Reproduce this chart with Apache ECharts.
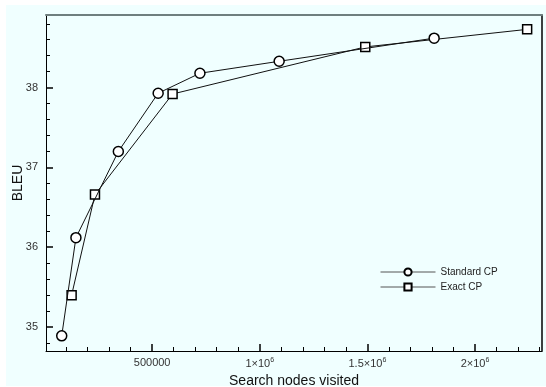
<!DOCTYPE html>
<html>
<head>
<meta charset="utf-8">
<script src="https://cdn.jsdelivr.net/npm/echarts@6/dist/echarts.min.js"></script>
<style>
html,body{margin:0;padding:0;background:#fff;}
#c{width:546px;height:387px;}
</style>
</head>
<body>
<div id="c"></div>
<script>
// ---- data ----
const stdName = 'Standard CP';
const exactName = 'Exact CP';
const stdX = [80000, 146000, 343000, 528000, 722000, 1090000, 1810000];
const stdY = [34.89, 36.12, 37.20, 37.93, 38.18, 38.33, 38.62];
const exactX = [126000, 234500, 595000, 1490000, 2242000];
const exactY = [35.40, 36.66, 37.92, 38.51, 38.73];
const xMajorTicks = [500000, 1000000, 1500000, 2000000];
const xMajorLabels = {500000: '500000', 1000000: '{a|1×10}{s|6}', 1500000: '{a|1.5×10}{s|6}', 2000000: '{a|2×10}{s|6}'};
const xMinorTicks = [100000,200000,300000,400000,600000,700000,800000,900000,1100000,1200000,1300000,1400000,1600000,1700000,1800000,1900000,2100000,2200000,2300000];
const yMajorTicks = [35, 36, 37, 38];
const yMinorTicks = [34.8,35.2,35.4,35.6,35.8,36.2,36.4,36.6,36.8,37.2,37.4,37.6,37.8,38.2,38.4,38.6,38.8];
const xTitle = 'Search nodes visited';
const yTitle = 'BLEU';

const X_MIN = 7000, X_MAX = 2311000, Y_MIN = 34.70, Y_MAX = 38.91;
const FONT = 'Liberation Sans, Arial, sans-serif';

function pairs(xs, ys){ return xs.map((x,i)=>[x, ys[i]]); }

const chart = echarts.init(document.getElementById('c'), null, {renderer:'canvas'});
const baseX = {type:'value', min:X_MIN, max:X_MAX, splitLine:{show:false}};
const baseY = {type:'value', min:Y_MIN, max:Y_MAX, splitLine:{show:false}};

chart.setOption({
  animation:false,
  backgroundColor:'#ffffff',
  graphic:[{type:'rect', z:-10, shape:{x:6, y:5, width:540, height:381}, style:{fill:'#f0ffff'}}],
  grid:{left:46, top:15, right:4, bottom:36, containLabel:false, outerBoundsMode:'none'},
  legend:{
    left:375, top:262, orient:'vertical', itemWidth:55, itemHeight:9, itemGap:5,
    textStyle:{fontFamily:FONT, fontSize:10, color:'#222'},
    lineStyle:{color:'#555', width:1},
    data:[stdName, exactName]
  },
  xAxis:[
    Object.assign({}, baseX, {
      position:'bottom',
      name:xTitle, nameLocation:'middle', nameGap:23, nameMoveOverlap:false,
      nameTextStyle:{fontFamily:FONT, fontSize:14, color:'#111'},
      axisLine:{show:true, lineStyle:{color:'#000', width:1}},
      axisTick:{show:true, inside:true, length:7, customValues:xMajorTicks, lineStyle:{color:'#000', width:1.5}},
      axisLabel:{show:true, margin:6, customValues:xMajorTicks, fontFamily:FONT, fontSize:11, color:'#333',
        formatter:v=>xMajorLabels[v] || '',
        rich:{a:{fontFamily:FONT, fontSize:11, color:'#333'}, s:{fontFamily:FONT, fontSize:7, color:'#333', verticalAlign:'top', padding:[0,0,6,0]}}}
    }),
    Object.assign({}, baseX, {
      position:'bottom',
      axisLine:{show:false},
      axisTick:{show:true, inside:true, length:4, customValues:xMinorTicks, lineStyle:{color:'#000', width:1}},
      axisLabel:{show:false}
    }),
    Object.assign({}, baseX, {
      position:'top',
      axisLine:{show:true, lineStyle:{color:'#6f7f7f', width:2}},
      axisTick:{show:false}, axisLabel:{show:false}
    })
  ],
  yAxis:[
    Object.assign({}, baseY, {
      position:'left',
      name:yTitle, nameLocation:'middle', nameGap:21, nameRotate:90, nameMoveOverlap:false,
      nameTextStyle:{fontFamily:FONT, fontSize:14, color:'#111'},
      axisLine:{show:true, lineStyle:{color:'#000', width:1}},
      axisTick:{show:true, inside:true, length:7, customValues:yMajorTicks, lineStyle:{color:'#000', width:1.5}},
      axisLabel:{show:true, margin:8, customValues:yMajorTicks, fontFamily:FONT, fontSize:11, color:'#333'}
    }),
    Object.assign({}, baseY, {
      position:'left',
      axisLine:{show:false},
      axisTick:{show:true, inside:true, length:4, customValues:yMinorTicks, lineStyle:{color:'#000', width:1}},
      axisLabel:{show:false}
    }),
    Object.assign({}, baseY, {
      position:'right',
      axisLine:{show:true, lineStyle:{color:'#000', width:1.5}},
      axisTick:{show:false}, axisLabel:{show:false}
    })
  ],
  series:[
    {
      name:exactName, type:'line', data:pairs(exactX, exactY),
      xAxisIndex:0, yAxisIndex:0,
      symbol:'rect', symbolSize:9, showAllSymbol:true,
      lineStyle:{color:'#111', width:1},
      itemStyle:{color:'#ffffff', borderColor:'#000', borderWidth:1.5},
      z:3
    },
    {
      name:stdName, type:'line', data:pairs(stdX, stdY),
      xAxisIndex:0, yAxisIndex:0,
      symbol:'circle', symbolSize:10, showAllSymbol:true,
      lineStyle:{color:'#111', width:1},
      itemStyle:{color:'#ffffff', borderColor:'#000', borderWidth:1.5},
      z:4
    }
  ]
});
</script>
</body>
</html>
